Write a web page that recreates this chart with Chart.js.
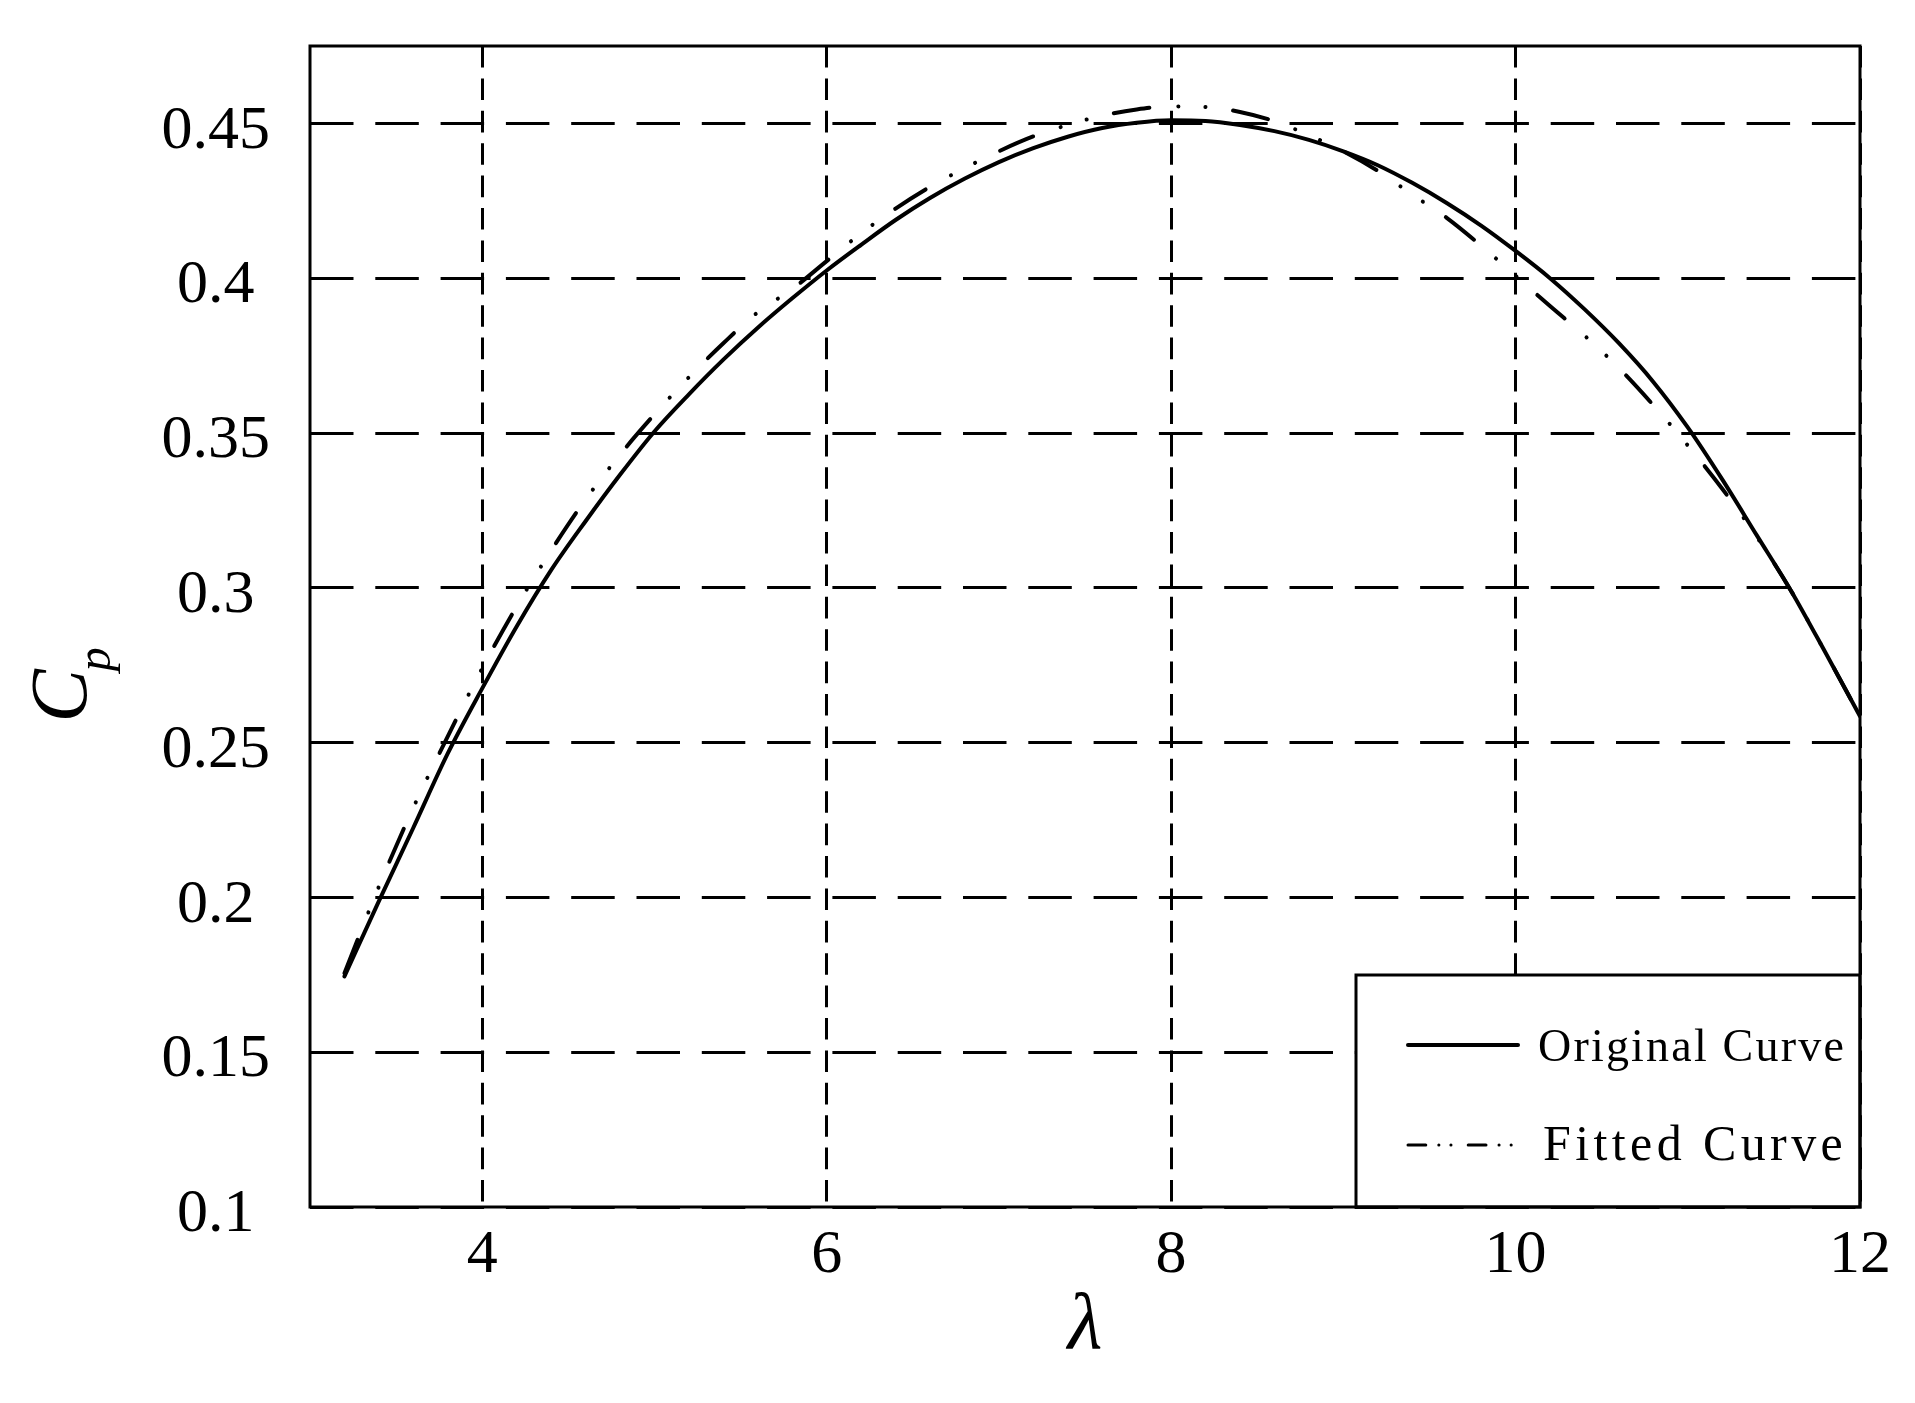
<!DOCTYPE html>
<html><head><meta charset="utf-8">
<script src="https://cdn.jsdelivr.net/npm/chart.js@4.4.1/dist/chart.umd.min.js"></script>
<style>html,body{margin:0;padding:0;background:#fff}#wrap{width:1915px;height:1403px;position:relative}</style>
</head><body><div id="wrap"><canvas id="c"></canvas></div>
<script>
// ---- data ----
const lambda = [3.2,3.4,3.6,3.8,4.0,4.2,4.4,4.6,4.8,5.0,5.2,5.4,5.6,5.8,6.0,6.2,6.4,6.6,6.8,7.0,7.2,7.4,7.6,7.8,8.0,8.2,8.4,8.6,8.8,9.0,9.2,9.4,9.6,9.8,10.0,10.2,10.4,10.6,10.8,11.0,11.2,11.4,11.6,11.8,12.0];
const cpOriginal = [0.1745,0.1988,0.2225,0.2465,0.2675,0.2875,0.3057,0.3215,0.3365,0.3505,0.3625,0.3737,0.3840,0.3935,0.4025,0.4108,0.4188,0.4259,0.4321,0.4375,0.4420,0.4457,0.4485,0.4502,0.4510,0.4508,0.4495,0.4475,0.4447,0.4410,0.4365,0.4308,0.4243,0.4170,0.4088,0.4000,0.3900,0.3790,0.3665,0.3518,0.3350,0.3170,0.2990,0.2790,0.2585];
const cpFitted = [0.1755,0.2035,0.2290,0.2520,0.2740,0.2940,0.3120,0.3285,0.3430,0.3560,0.3680,0.3790,0.3890,0.3965,0.4055,0.4145,0.4225,0.4295,0.4355,0.4410,0.4458,0.4495,0.4525,0.4545,0.4555,0.4553,0.4537,0.4507,0.4462,0.4410,0.4347,0.4270,0.4195,0.4105,0.4008,0.3910,0.3815,0.3710,0.3590,0.3460,0.3320,0.3165,0.2990,0.2790,0.2585];
const xTicks = [4,6,8,10,12];
const xTickLabels = ['4','6','8','10','12'];
const yTicks = [0.1,0.15,0.2,0.25,0.3,0.35,0.4,0.45];
const yTickLabels = ['0.1','0.15','0.2','0.25','0.3','0.35','0.4','0.45'];
const seriesNames = ['Original Curve','Fitted Curve'];
const xTitle = 'λ';
const yTitleMain = 'C';
const yTitleSub = 'p';
const xRange = [3, 12];
const yRange = [0.1, 0.475];

const SERIF = "'Liberation Serif', 'Times New Roman', serif";

const fittedDash = [36, 29, 0.1, 27, 0.1, 27.8];

const decorPlugin = {
  id: 'decor',
  afterDraw(chart) {
    const ctx = chart.ctx, a = chart.chartArea;
    ctx.save();
    // legend box
    const bx = a.right - 504, by = a.bottom - 232;
    ctx.setLineDash([]);
    ctx.fillStyle = '#fff';
    ctx.fillRect(bx, by, a.right - bx, a.bottom - by);
    ctx.strokeStyle = '#000';
    ctx.lineWidth = 3;
    ctx.strokeRect(bx, by, a.right - bx, a.bottom - by);
    // sample 1: solid
    ctx.lineCap = 'round';
    ctx.lineWidth = 4;
    ctx.beginPath(); ctx.moveTo(bx + 52, by + 70); ctx.lineTo(bx + 162, by + 70); ctx.stroke();
    // sample 2: dash-dot-dot
    ctx.lineWidth = 3;
    ctx.setLineDash([17.8, 13, 0.1, 12, 0.1, 17.2]);
    ctx.beginPath(); ctx.moveTo(bx + 52, by + 170); ctx.lineTo(bx + 160, by + 170); ctx.stroke();
    ctx.setLineDash([]);
    // labels
    ctx.fillStyle = '#000';
    ctx.textBaseline = 'alphabetic';
    ctx.textAlign = 'left';
    ctx.font = "46px " + SERIF;
    if ('letterSpacing' in ctx) ctx.letterSpacing = '2.2px';
    ctx.fillText(seriesNames[0], bx + 182, by + 86);
    ctx.font = "50px " + SERIF;
    if ('letterSpacing' in ctx) ctx.letterSpacing = '4.4px';
    ctx.fillText(seriesNames[1], bx + 187, by + 185);
    if ('letterSpacing' in ctx) ctx.letterSpacing = '0px';
    // plot frame
    ctx.lineWidth = 3;
    ctx.strokeRect(a.left, a.top, a.right - a.left, a.bottom - a.top);
    // y axis title: C with subscript p, rotated
    ctx.translate(a.left - 224, (a.top + a.bottom) / 2 + 96);
    ctx.rotate(-Math.PI / 2);
    ctx.font = "italic 80px " + SERIF;
    ctx.fillText(yTitleMain, 0, 0);
    const w = ctx.measureText(yTitleMain).width;
    ctx.font = "italic 48px " + SERIF;
    ctx.fillText(yTitleSub, w - 2, 24);
    ctx.restore();
  }
};

new Chart(document.getElementById('c'), {
  type: 'line',
  data: {
    datasets: [
      {
        label: seriesNames[0],
        data: lambda.map((x, i) => ({x: x, y: cpOriginal[i]})),
        borderColor: '#000', backgroundColor: '#000',
        borderWidth: 4, pointRadius: 0, fill: false,
        cubicInterpolationMode: 'monotone',
        borderCapStyle: 'round', borderJoinStyle: 'round'
      },
      {
        label: seriesNames[1],
        data: lambda.map((x, i) => ({x: x, y: cpFitted[i]})),
        borderColor: '#000', backgroundColor: '#000',
        borderWidth: 4, pointRadius: 0, fill: false,
        cubicInterpolationMode: 'monotone',
        borderDash: fittedDash,
        borderCapStyle: 'round', borderJoinStyle: 'round'
      }
    ]
  },
  options: {
    responsive: true,
    maintainAspectRatio: false,
    devicePixelRatio: 1,
    animation: false,
    layout: {padding: {top: 46, right: 55, left: 0, bottom: 0}},
    plugins: {legend: {display: false}, tooltip: {enabled: false}, title: {display: false}},
    scales: {
      x: {
        type: 'linear', min: xRange[0], max: xRange[1],
        afterBuildTicks: s => { s.ticks = xTicks.map(v => ({value: v})); },
        afterFit: s => { s.height = 196; s.paddingLeft = 0; s.paddingRight = 0; },
        ticks: {
          callback: (v, i) => xTickLabels[i],
          color: '#000', padding: 12, maxRotation: 0, autoSkip: false,
          font: {family: SERIF, size: 62}
        },
        grid: {color: '#000', lineWidth: 3, drawTicks: false},
        border: {display: false, dash: [21.6, 10.8]},
        title: {
          display: true, text: xTitle, color: '#000',
          font: {family: SERIF, size: 80, style: 'italic'},
          padding: {top: 0, bottom: 28}
        }
      },
      y: {
        type: 'linear', min: yRange[0], max: yRange[1],
        afterBuildTicks: s => { s.ticks = yTicks.map(v => ({value: v})); },
        afterFit: s => { s.width = 310; s.paddingTop = 0; s.paddingBottom = 0; },
        ticks: {
          callback: (v, i) => yTickLabels[i],
          color: '#000', padding: 40, crossAlign: 'center', labelOffset: 8, autoSkip: false,
          font: {family: SERIF, size: 62}
        },
        grid: {color: '#000', lineWidth: 3, drawTicks: false},
        border: {display: false, dash: [43.5, 21.8]},
        title: {display: false}
      }
    }
  },
  plugins: [decorPlugin]
});
</script>
</body></html>
